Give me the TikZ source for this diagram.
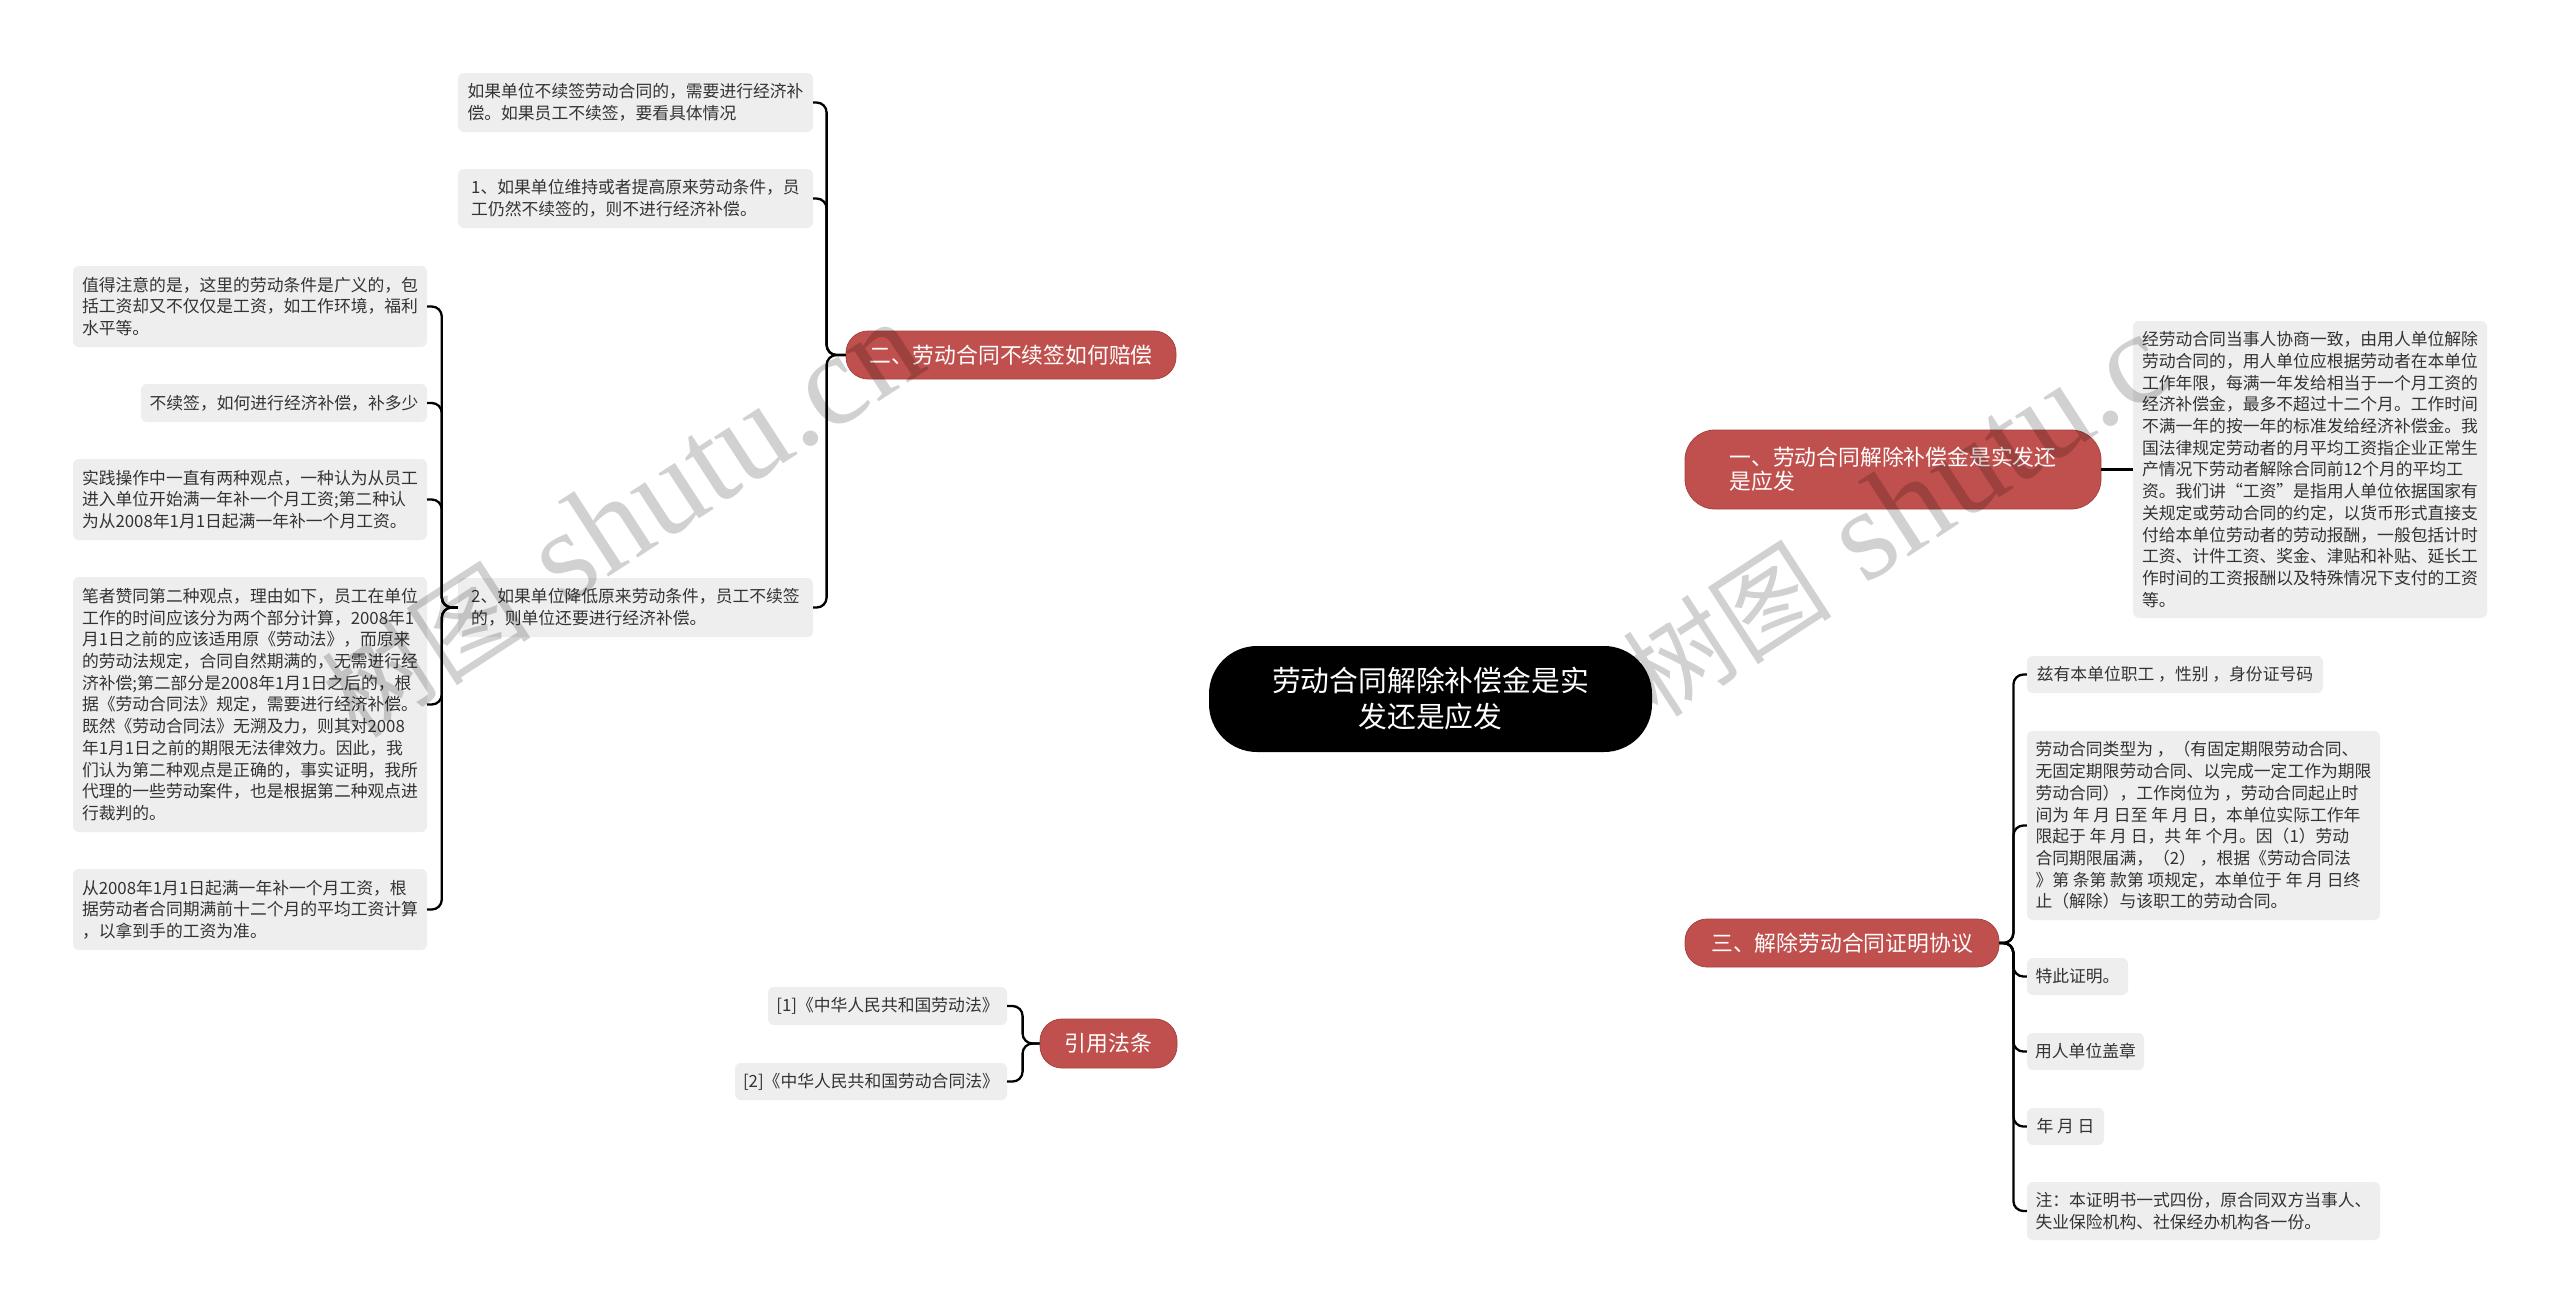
\documentclass[tikz,border=0pt]{standalone}
\usepackage{fontspec}
\setmainfont{Noto Sans CJK SC}
\newfontfamily\wmserif{Liberation Serif}
\pgfdeclarelayer{bg}
\pgfsetlayers{bg,main}
\definecolor{leafgray}{HTML}{EEEEEE}
\definecolor{txt}{HTML}{333333}
\definecolor{branchred}{HTML}{C0504D}
\tikzset{
  leaf/.style={fill=leafgray, rounded corners=6pt, text=txt, align=left, inner sep=0pt,
    font=\fontsize{16.8}{21.7}\selectfont},
  branch/.style={fill=branchred, draw=branchred!85!black, line width=0.8pt, text=white,
    align=left, inner sep=0pt, rounded corners=22pt, font=\fontsize{21.8}{24}\selectfont},
  root/.style={fill=black, text=white, align=center, inner sep=0pt, rounded corners=48pt,
    font=\fontsize{28.8}{36}\selectfont},
  conn/.style={draw=black, line width=2.3pt},
  brk/.style={conn, rounded corners=10pt},
  wm/.style={text=black, opacity=0.18, font=\fontsize{130}{130}\selectfont, rotate=33}
}
\newcommand\wmtext[1]{{\fontsize{105}{105}\selectfont 树图}\hspace{36pt}{\wmserif #1}}
\begin{document}
\begin{tikzpicture}[x=1pt, y=-1pt]
\fill[white] (0,0) rectangle (2560,1315);
\useasboundingbox (0,0) rectangle (2560,1315);

% root
\node[root, minimum width=443pt, minimum height=106pt] (C) at (1430.5,699) {劳动合同解除补偿金是实\\发还是应发};

% branches
\node[branch, minimum width=330pt, minimum height=48pt] (B2) at (1011,355) {二、劳动合同不续签如何赔偿};
\node[branch, rounded corners=30pt, minimum width=416pt, minimum height=79pt] (B1) at (1893,469.5) {一、劳动合同解除补偿金是实发还\\是应发};
\node[branch, minimum width=314pt, minimum height=48pt] (B3) at (1842,943) {三、解除劳动合同证明协议};
\node[branch, minimum width=137pt, minimum height=49pt] (Q) at (1108.5,1043.5) {引用法条};

% leaves of B2
\node[leaf, minimum width=355pt, minimum height=59pt] (a1) at (635.5,102.5) {如果单位不续签劳动合同的，需要进行经济补\\偿。如果员工不续签，要看具体情况};
\node[leaf, minimum width=355pt, minimum height=59pt] (a2) at (635.5,198.5) {1、如果单位维持或者提高原来劳动条件，员\\工仍然不续签的，则不进行经济补偿。};
\node[leaf, minimum width=355pt, minimum height=59pt] (a3) at (635.5,607.5) {2、如果单位降低原来劳动条件，员工不续签\\的，则单位还要进行经济补偿。};

% leaves of a3
\node[leaf, minimum width=354pt, minimum height=81pt] (b1) at (250,306.5) {值得注意的是，这里的劳动条件是广义的，包\\括工资却又不仅仅是工资，如工作环境，福利\\水平等。};
\node[leaf, minimum width=286pt, minimum height=38pt] (b2) at (284,403) {不续签，如何进行经济补偿，补多少};
\node[leaf, minimum width=354pt, minimum height=81pt] (b3) at (250,499.5) {实践操作中一直有两种观点，一种认为从员工\\进入单位开始满一年补一个月工资;第二种认\\为从2008年1月1日起满一年补一个月工资。};
\node[leaf, minimum width=354pt, minimum height=255pt] (b4) at (250,704.5) {笔者赞同第二种观点，理由如下，员工在单位\\工作的时间应该分为两个部分计算，2008年1\\月1日之前的应该适用原《劳动法》，而原来\\的劳动法规定，合同自然期满的，无需进行经\\济补偿;第二部分是2008年1月1日之后的，根\\据《劳动合同法》规定，需要进行经济补偿。\\既然《劳动合同法》无溯及力，则其对2008\\年1月1日之前的期限无法律效力。因此，我\\们认为第二种观点是正确的，事实证明，我所\\代理的一些劳动案件，也是根据第二种观点进\\行裁判的。};
\node[leaf, minimum width=354pt, minimum height=81pt] (b5) at (250,909.5) {从2008年1月1日起满一年补一个月工资，根\\据劳动者合同期满前十二个月的平均工资计算\\，以拿到手的工资为准。};

% leaf of B1
\node[leaf, minimum width=354pt, minimum height=297pt] (r1) at (2310,469.5) {经劳动合同当事人协商一致，由用人单位解除\\劳动合同的，用人单位应根据劳动者在本单位\\工作年限，每满一年发给相当于一个月工资的\\经济补偿金，最多不超过十二个月。工作时间\\不满一年的按一年的标准发给经济补偿金。我\\国法律规定劳动者的月平均工资指企业正常生\\产情况下劳动者解除合同前12个月的平均工\\资。我们讲“工资”是指用人单位依据国家有\\关规定或劳动合同的约定，以货币形式直接支\\付给本单位劳动者的劳动报酬，一般包括计时\\工资、计件工资、奖金、津贴和补贴、延长工\\作时间的工资报酬以及特殊情况下支付的工资\\等。};

% leaves of B3
\node[leaf, minimum width=296pt, minimum height=37pt] (c1) at (2175,674.5) {兹有本单位职工 ，性别 ，身份证号码};
\node[leaf, minimum width=353pt, minimum height=189pt] (c2) at (2203.5,825.5) {劳动合同类型为 ，（有固定期限劳动合同、\\无固定期限劳动合同、以完成一定工作为期限\\劳动合同），工作岗位为 ，劳动合同起止时\\间为 年 月 日至 年 月 日，本单位实际工作年\\限起于 年 月 日，共 年 个月。因（1）劳动\\合同期限届满，（2） ，根据《劳动合同法\\》第 条第 款第 项规定，本单位于 年 月 日终\\止（解除）与该职工的劳动合同。};
\node[leaf, minimum width=101pt, minimum height=37pt] (c3) at (2077.5,976.5) {特此证明。};
\node[leaf, minimum width=117pt, minimum height=37pt] (c4) at (2085.5,1051.5) {用人单位盖章};
\node[leaf, minimum width=77pt, minimum height=37pt] (c5) at (2065.5,1126.5) {年 月 日};
\node[leaf, minimum width=353pt, minimum height=58pt] (c6) at (2203.5,1211) {注：本证明书一式四份，原合同双方当事人、\\失业保险机构、社保经办机构各一份。};

% leaves of Q
\node[leaf, minimum width=239pt, minimum height=38pt] (d1) at (887.5,1006) {[1]《中华人民共和国劳动法》};
\node[leaf, minimum width=272pt, minimum height=37pt] (d2) at (871,1081.5) {[2]《中华人民共和国劳动合同法》};

\begin{pgfonlayer}{bg}
\draw[conn] (C.center) .. controls (1431,360) and (1360,355) .. (B2.east);
\draw[conn] (C.center) .. controls (1431,490) and (1560,470) .. (B1.west);
\draw[conn] (C.center) .. controls (1431,920) and (1560,943) .. (B3.west);
\draw[conn] (C.center) .. controls (1431,1030) and (1330,1043) .. (Q.east);
\end{pgfonlayer}

\draw[brk] (B2.west) -- ++(-19,0) |- (a1.east);
\draw[brk] (B2.west) -- ++(-19,0) |- (a2.east);
\draw[brk] (B2.west) -- ++(-19,0) |- (a3.east);

\draw[brk] (a3.west) -- ++(-16,0) |- (b1.east);
\draw[brk] (a3.west) -- ++(-16,0) |- (b2.east);
\draw[brk] (a3.west) -- ++(-16,0) |- (b3.east);
\draw[brk] (a3.west) -- ++(-16,0) |- (b4.east);
\draw[brk] (a3.west) -- ++(-16,0) |- (b5.east);

\draw[conn] (B1.east) -- (r1.west);

\draw[brk] (B3.east) -- ++(14,0) |- (c1.west);
\draw[brk] (B3.east) -- ++(14,0) |- (c2.west);
\draw[brk] (B3.east) -- ++(14,0) |- (c3.west);
\draw[brk] (B3.east) -- ++(14,0) |- (c4.west);
\draw[brk] (B3.east) -- ++(14,0) |- (c5.west);
\draw[brk] (B3.east) -- ++(14,0) |- (c6.west);

\draw[brk] (Q.west) -- ++(-17,0) |- (d1.east);
\draw[brk] (Q.west) -- ++(-17,0) |- (d2.east);

% watermarks
\node[wm] (w1) at (622,520) {\wmtext{shutu.cn}};
\node[wm] (w2) at (1895,517) {\wmtext{shutu.c}};
\end{tikzpicture}
\end{document}
